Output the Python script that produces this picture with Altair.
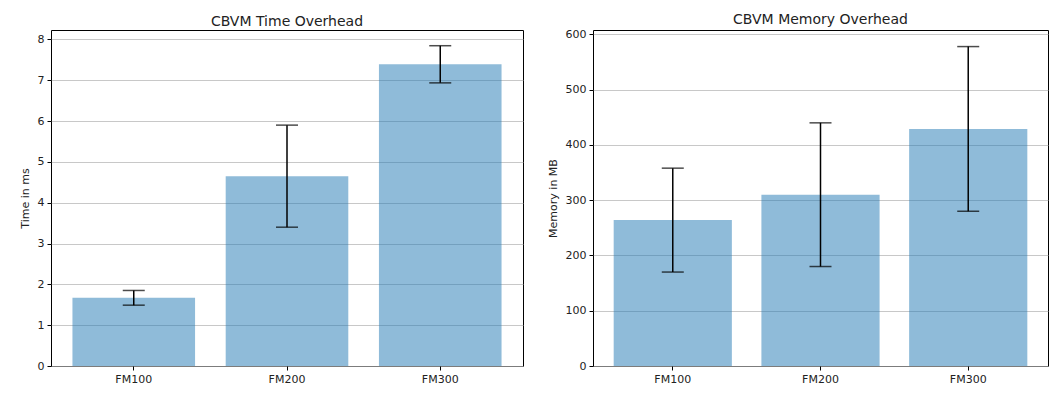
import altair as alt
import pandas as pd

categories = ["FM100", "FM200", "FM300"]
time_mean = [1.67, 4.65, 7.39]
time_err = [0.18, 1.25, 0.455]
mem_mean = [264, 310, 429]
mem_err = [94, 130, 149]

time_df = pd.DataFrame({"cat": categories, "mean": time_mean, "err": time_err})
mem_df = pd.DataFrame({"cat": categories, "mean": mem_mean, "err": mem_err})

FONT = "DejaVu Sans"


def panel(df, title, ytitle, ymax, yticks, width, height):
    xenc = alt.X("cat:N", sort=categories, title=None,
                 scale=alt.Scale(paddingInner=0.2, paddingOuter=0.14),
                 axis=alt.Axis(labelAngle=0, grid=False, domain=False,
                               ticks=True, tickSize=4, tickColor="black",
                               labelPadding=3, labelFontSize=11,
                               labelColor="#222222"))
    yscale = alt.Scale(domain=[0, ymax], nice=False, zero=True)
    base = alt.Chart(df).transform_calculate(
        lo="datum.mean - datum.err", hi="datum.mean + datum.err"
    )
    bars = base.mark_bar(color="#1f77b4", opacity=0.5).encode(
        x=xenc,
        y=alt.Y("mean:Q", scale=yscale, title=ytitle,
                axis=alt.Axis(values=yticks, grid=True, gridColor="#b0b0b0",
                              gridOpacity=0.7, gridWidth=1, domain=False,
                              tickSize=4, tickColor="black", labelPadding=3,
                              labelFontSize=11, labelColor="#222222",
                              titleFontSize=11, titleFontWeight="normal",
                              titleColor="#222222", titlePadding=7)),
    )
    rule = base.mark_rule(color="black", strokeWidth=1.5).encode(
        x=alt.X("cat:N", sort=categories),
        y=alt.Y("lo:Q", scale=yscale),
        y2="hi:Q",
    )
    cap_lo = base.mark_tick(color="black", thickness=1.5, size=22, orient="horizontal").encode(
        x=alt.X("cat:N", sort=categories), y=alt.Y("lo:Q", scale=yscale)
    )
    cap_hi = base.mark_tick(color="black", thickness=1.5, size=22, orient="horizontal").encode(
        x=alt.X("cat:N", sort=categories), y=alt.Y("hi:Q", scale=yscale)
    )
    return alt.layer(bars, rule, cap_lo, cap_hi).properties(
        width=width, height=height,
        title=alt.TitleParams(title, fontSize=14, fontWeight="normal",
                              font=FONT, color="#222222", offset=1,
                              frame="group"),
    )


left = panel(time_df, "CBVM Time Overhead", "Time in ms", 8.23,
             [0, 1, 2, 3, 4, 5, 6, 7, 8], 472, 336)
right = panel(mem_df, "CBVM Memory Overhead", "Memory in MB", 608,
              [0, 100, 200, 300, 400, 500, 600], 455, 336)

chart = alt.hconcat(left, right, spacing=22).properties(
    padding={"top": 4, "left": 10, "right": 0, "bottom": 0}
).configure(font=FONT).configure_view(
    stroke="black", strokeWidth=1
).configure_axis(labelFont=FONT, titleFont=FONT)

chart.save("out.html", embed_options={"renderer": "svg", "actions": False})
